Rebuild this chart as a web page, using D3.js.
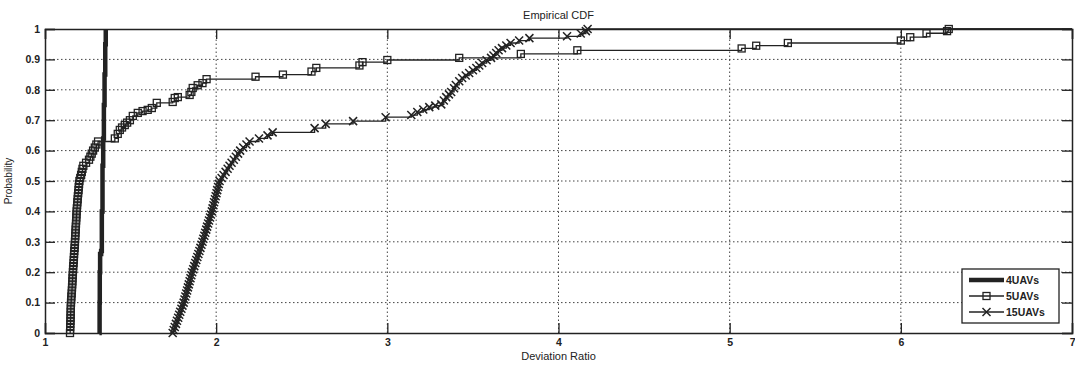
<!DOCTYPE html>
<html>
<head>
<meta charset="utf-8">
<script src="https://cdn.jsdelivr.net/npm/d3@7"></script>
<style>
  body { margin: 0; background: #fff; }
  svg text { font-family: "Liberation Sans", Arial, sans-serif; fill: #222; }
</style>
</head>
<body>
<script>
// x ticks / y ticks
var xTicks = [1, 2, 3, 4, 5, 6, 7];
var yTicks = [0, 0.1, 0.2, 0.3, 0.4, 0.5, 0.6, 0.7, 0.8, 0.9, 1];

// 4UAVs (thick line)
var x4 = [1.318, 1.319, 1.320, 1.322, 1.328, 1.332, 1.336, 1.340, 1.344, 1.348, 1.352, 1.355];
var p4 = [0, 0.1, 0.2, 0.26, 0.27, 0.4, 0.55, 0.64, 0.75, 0.85, 0.95, 1];

// 5UAVs (squares)
var x5 = [
  1.146, 1.147, 1.147, 1.148, 1.149, 1.149, 1.150, 1.150, 1.151, 1.151,
  1.152, 1.153, 1.154, 1.156, 1.157, 1.158, 1.159, 1.160, 1.161, 1.162,
  1.163, 1.164, 1.165, 1.167, 1.168, 1.169, 1.170, 1.171, 1.173, 1.174,
  1.175, 1.176, 1.177, 1.178, 1.179, 1.180, 1.181, 1.182, 1.183, 1.184,
  1.185, 1.186, 1.188, 1.189, 1.191, 1.192, 1.194, 1.196, 1.197, 1.199,
  1.201, 1.206, 1.211, 1.215, 1.219, 1.224, 1.240, 1.257, 1.265, 1.273,
  1.281, 1.291, 1.300, 1.310,
  1.408, 1.425, 1.437, 1.450, 1.466, 1.480, 1.496, 1.513, 1.542, 1.570, 1.600, 1.624, 1.653,
  1.746, 1.758, 1.776, 1.845, 1.855, 1.863, 1.892, 1.920, 1.944,
  2.230, 2.390, 2.557, 2.585, 2.837, 2.855, 3.000, 3.420, 3.780, 4.110,
  5.070, 5.155, 5.340, 6.000, 6.055, 6.150, 6.270, 6.280];
var p5 = [
  0.00, 0.01, 0.02, 0.03, 0.04, 0.05, 0.06, 0.07, 0.08, 0.09,
  0.10, 0.11, 0.12, 0.13, 0.14, 0.15, 0.16, 0.17, 0.18, 0.19,
  0.20, 0.21, 0.22, 0.23, 0.24, 0.25, 0.26, 0.27, 0.28, 0.29,
  0.30, 0.31, 0.32, 0.33, 0.34, 0.35, 0.36, 0.37, 0.38, 0.39,
  0.40, 0.41, 0.42, 0.43, 0.44, 0.45, 0.46, 0.47, 0.48, 0.49,
  0.50, 0.51, 0.52, 0.53, 0.54, 0.55, 0.56, 0.57, 0.58, 0.59,
  0.60, 0.61, 0.62, 0.63,
  0.640, 0.655, 0.668, 0.676, 0.684, 0.692, 0.700, 0.714, 0.724, 0.730, 0.734, 0.740, 0.757,
  0.760, 0.773, 0.776, 0.783, 0.793, 0.806, 0.815, 0.822, 0.835,
  0.843, 0.850, 0.860, 0.872, 0.880, 0.891, 0.898, 0.905, 0.918, 0.930,
  0.936, 0.945, 0.954, 0.962, 0.973, 0.986, 0.993, 1.0];

// 15UAVs (crosses)
var x15 = [
  1.746, 1.752, 1.758, 1.765, 1.771, 1.778, 1.784, 1.790, 1.797, 1.803,
  1.810, 1.815, 1.820, 1.825, 1.830, 1.835, 1.840, 1.845, 1.850, 1.855,
  1.860, 1.866, 1.872, 1.878, 1.884, 1.890, 1.896, 1.902, 1.908, 1.914,
  1.920, 1.925, 1.931, 1.936, 1.942, 1.947, 1.953, 1.958, 1.964, 1.969,
  1.975, 1.979, 1.984, 1.988, 1.993, 1.997, 2.002, 2.006, 2.011, 2.015,
  2.020, 2.032, 2.043, 2.055, 2.067, 2.078, 2.090, 2.103, 2.115, 2.128,
  2.140, 2.158, 2.177, 2.195, 2.250, 2.300, 2.330,
  2.575, 2.640, 2.800, 2.990, 3.140, 3.175, 3.210, 3.245, 3.280, 3.315, 3.330, 3.344, 3.360,
  3.373, 3.390, 3.400, 3.420, 3.437, 3.458, 3.478, 3.500, 3.520, 3.537, 3.554, 3.580, 3.606,
  3.620, 3.636, 3.650, 3.670, 3.695, 3.720, 3.770, 3.830, 4.050, 4.130, 4.160, 4.170];
var p15 = [
  0.00, 0.01, 0.02, 0.03, 0.04, 0.05, 0.06, 0.07, 0.08, 0.09,
  0.10, 0.11, 0.12, 0.13, 0.14, 0.15, 0.16, 0.17, 0.18, 0.19,
  0.20, 0.21, 0.22, 0.23, 0.24, 0.25, 0.26, 0.27, 0.28, 0.29,
  0.30, 0.31, 0.32, 0.33, 0.34, 0.35, 0.36, 0.37, 0.38, 0.39,
  0.40, 0.41, 0.42, 0.43, 0.44, 0.45, 0.46, 0.47, 0.48, 0.49,
  0.50, 0.51, 0.52, 0.53, 0.54, 0.55, 0.56, 0.57, 0.58, 0.59,
  0.60, 0.61, 0.62, 0.63, 0.64, 0.65, 0.66,
  0.674, 0.688, 0.697, 0.710, 0.717, 0.727, 0.735, 0.743, 0.748, 0.752, 0.765, 0.776, 0.785,
  0.793, 0.805, 0.816, 0.828, 0.839, 0.847, 0.855, 0.864, 0.872, 0.880, 0.888, 0.897, 0.905,
  0.913, 0.921, 0.930, 0.937, 0.946, 0.954, 0.962, 0.970, 0.976, 0.985, 0.993, 1.0];

var W = 1075, H = 367;
var margin = { left: 45, right: 3, top: 29, bottom: 34 };

var svg = d3.select("body").append("svg")
  .attr("width", W)
  .attr("height", H);

var x = d3.scaleLinear().domain([1, 7]).range([margin.left, W - margin.right]);
var y = d3.scaleLinear().domain([0, 1]).range([H - margin.bottom, margin.top]);

var ink = "#222";

// grid
var grid = svg.append("g").attr("stroke", "#444").attr("stroke-width", 1)
  .attr("stroke-dasharray", "1.5,2.5");
grid.selectAll(".gx").data(xTicks.slice(1, -1)).enter().append("line")
  .attr("x1", function (d) { return x(d); }).attr("x2", function (d) { return x(d); })
  .attr("y1", y(0)).attr("y2", y(1));
grid.selectAll(".gy").data(yTicks.slice(1, -1)).enter().append("line")
  .attr("y1", function (d) { return y(d); }).attr("y2", function (d) { return y(d); })
  .attr("x1", x(1)).attr("x2", x(7));

// axes (ticks inside, MATLAB style)
var tickLen = 10;
var xAxis = svg.append("g").attr("transform", "translate(0," + y(0) + ")")
  .call(d3.axisBottom(x).tickValues(xTicks).tickSize(-tickLen).tickPadding(6)
    .tickFormat(d3.format("d")));
var xAxisTop = svg.append("g").attr("transform", "translate(0," + y(1) + ")")
  .call(d3.axisTop(x).tickValues(xTicks).tickSize(-tickLen).tickFormat(""));
var yAxis = svg.append("g").attr("transform", "translate(" + x(1) + ",0)")
  .call(d3.axisLeft(y).tickValues(yTicks).tickSize(-tickLen).tickPadding(5)
    .tickFormat(function (d) { return d === 0 || d === 1 ? d : d3.format(".1f")(d); }));
var yAxisR = svg.append("g").attr("transform", "translate(" + x(7) + ",0)")
  .call(d3.axisRight(y).tickValues(yTicks).tickSize(-tickLen).tickFormat(""));

[xAxis, xAxisTop, yAxis, yAxisR].forEach(function (a) {
  a.select(".domain").attr("stroke", ink).attr("stroke-width", 1.5);
  a.selectAll(".tick line").attr("stroke", ink).attr("stroke-width", 1.3);
  a.selectAll("text").style("font-size", "10.5px").style("font-weight", "bold")
    .attr("fill", ink);
});
// keep the last x label inside the page
xAxis.selectAll(".tick text").filter(function (d) { return d === 7; })
  .attr("text-anchor", "end").attr("dx", "3");

// series
function pts(xs, ps, extend) {
  var out = xs.map(function (v, i) { return [v, ps[i]]; });
  if (extend) out.push([7, 1]);
  return out;
}
var line = d3.line()
  .x(function (d) { return x(d[0]); })
  .y(function (d) { return y(d[1]); })
  .curve(d3.curveStepAfter);

var plot = svg.append("g");

plot.append("path").datum(pts(x15, p15, true))
  .attr("d", line).attr("fill", "none").attr("stroke", ink).attr("stroke-width", 1.3);
plot.append("path").datum(pts(x5, p5, true))
  .attr("d", line).attr("fill", "none").attr("stroke", ink).attr("stroke-width", 1.3);

plot.selectAll(".sq").data(x5).enter().append("rect")
  .attr("x", function (d) { return x(d) - 3.5; })
  .attr("y", function (d, i) { return y(p5[i]) - 3.5; })
  .attr("width", 7).attr("height", 7)
  .attr("fill", "none").attr("stroke", ink).attr("stroke-width", 1.3);

plot.selectAll(".cr").data(x15).enter().append("path")
  .attr("transform", function (d, i) {
    return "translate(" + x(d) + "," + y(p15[i]) + ")";
  })
  .attr("d", "M-4,-4L4,4M-4,4L4,-4")
  .attr("fill", "none").attr("stroke", ink).attr("stroke-width", 1.5);

plot.append("path").datum(pts(x4, p4, false))
  .attr("d", line).attr("fill", "none").attr("stroke", ink).attr("stroke-width", 4.5);

// title & labels
svg.append("text").attr("x", (x(1) + x(7)) / 2).attr("y", 19)
  .attr("text-anchor", "middle").style("font-size", "11px").text("Empirical CDF");
svg.append("text").attr("x", (x(1) + x(7)) / 2).attr("y", 360)
  .attr("text-anchor", "middle").style("font-size", "11px").text("Deviation Ratio");
svg.append("text")
  .attr("transform", "translate(12," + ((y(0) + y(1)) / 2) + ") rotate(-90)")
  .attr("text-anchor", "middle").style("font-size", "10px").text("Probability");

// legend
var legend = svg.append("g").attr("transform", "translate(962,269)");
legend.append("rect").attr("width", 97).attr("height", 54)
  .attr("fill", "#fff").attr("stroke", ink).attr("stroke-width", 1.3);
var items = ["4UAVs", "5UAVs", "15UAVs"];
items.forEach(function (name, i) {
  var ly = 11 + i * 16;
  legend.append("line").attr("x1", 7).attr("x2", 42).attr("y1", ly).attr("y2", ly)
    .attr("stroke", ink).attr("stroke-width", i === 0 ? 4.5 : 1.3);
  if (i === 1) {
    legend.append("rect").attr("x", 21).attr("y", ly - 3.5).attr("width", 7).attr("height", 7)
      .attr("fill", "none").attr("stroke", ink).attr("stroke-width", 1.3);
  }
  if (i === 2) {
    legend.append("path").attr("transform", "translate(24.5," + ly + ")")
      .attr("d", "M-4,-4L4,4M-4,4L4,-4").attr("fill", "none")
      .attr("stroke", ink).attr("stroke-width", 1.5);
  }
  legend.append("text").attr("x", 44).attr("y", ly + 4)
    .style("font-size", "10.5px").style("font-weight", "bold").text(name);
});
</script>
</body>
</html>
